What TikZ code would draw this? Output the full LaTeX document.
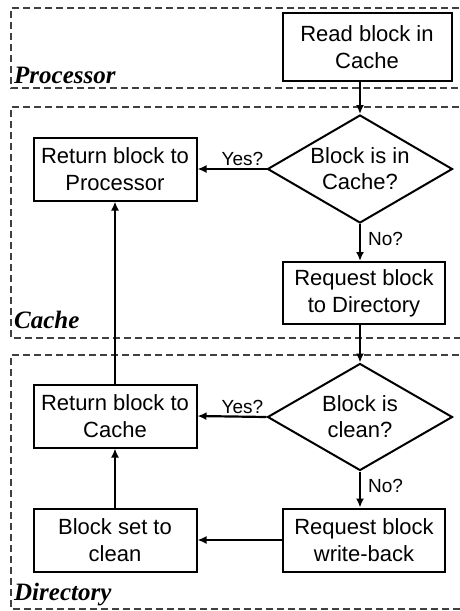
\documentclass[tikz,border=0pt]{standalone}
\usepackage{fontspec}
\setmainfont{Liberation Sans}
\newfontfamily\secfont{Liberation Serif}
\usetikzlibrary{shapes.geometric,arrows.meta}
\begin{document}
\begin{tikzpicture}[x=1pt,y=-1pt,
  stepbox/.style={draw=black,line width=2pt,rectangle,inner sep=0pt,align=center,
     minimum width=163pt,minimum height=63pt,font=\fontsize{22}{27}\selectfont},
  decision/.style={draw=black,line width=2pt,diamond,aspect=1.71,inner sep=0pt,align=center,
     minimum width=185pt,minimum height=108pt,font=\fontsize{22}{26}\selectfont},
  conn/.style={line width=2.2pt,-{Latex[length=9pt,width=8pt]}},
  lbl/.style={font=\fontsize{19}{22}\selectfont,inner sep=2pt},
  region/.style={draw=black!75,line width=1.3pt,dash pattern=on 7pt off 4pt},
  sec/.style={font=\secfont\fontsize{25}{28}\selectfont\bfseries\itshape,anchor=base west,inner sep=0pt}]
\clip (0,0) rectangle (460,611);
\fill[white] (0,0) rectangle (460,611);
% regions
\draw[region] (470,8) -- (11,8) -- (11,88) -- (470,88);
\draw[region] (470,107) -- (11,107) -- (11,338) -- (470,338);
\draw[region] (470,355) -- (11,355) -- (11,609) -- (470,609);
\node[sec] (lp) at (14,83) {Processor};
\node[sec] (lc) at (14,328) {Cache};
\node[sec] (ld) at (14,600) {Directory};
% nodes
\node[stepbox,minimum width=169pt,minimum height=68pt] (read) at (367,47) {Read block in\\Cache};
\node[decision] (d1) at (360,169) {Block is in\\Cache?};
\node[stepbox] (ret1) at (115,169) {Return block to\\Processor};
\node[stepbox,minimum width=162pt,minimum height=62pt] (req) at (364,293) {Request block\\to Directory};
\node[decision,minimum height=107pt] (d2) at (360,417) {Block is\\clean?};
\node[stepbox] (ret2) at (115,416) {Return block to\\Cache};
\node[stepbox] (clean) at (115,540) {Block set to\\clean};
\node[stepbox,minimum width=162pt] (wb) at (364,540) {Request block\\write-back};
% connectors
\draw[conn] (d1.north |- read.south) -- (d1.north);
\draw[conn] (d1.west) -- node[lbl,above,pos=0.35] (y1) {Yes?} (ret1.east);
\draw[conn] (d1.south) -- node[lbl,anchor=west,pos=0.4,xshift=5pt] (n1) {No?} (d1.south |- req.north);
\draw[conn] (d2.north |- req.south) -- (d2.north);
\draw[conn] (d2.west) -- node[lbl,above,pos=0.35] (y2) {Yes?} (ret2.east);
\draw[conn] (d2.south) -- node[lbl,anchor=west,pos=0.4,xshift=5pt] (n2) {No?} (d2.south |- wb.north);
\draw[conn] (wb.west) -- (clean.east);
\draw[conn] (clean.north) -- (ret2.south);
\draw[conn] (ret2.north) -- (ret1.south);
\end{tikzpicture}
\end{document}
